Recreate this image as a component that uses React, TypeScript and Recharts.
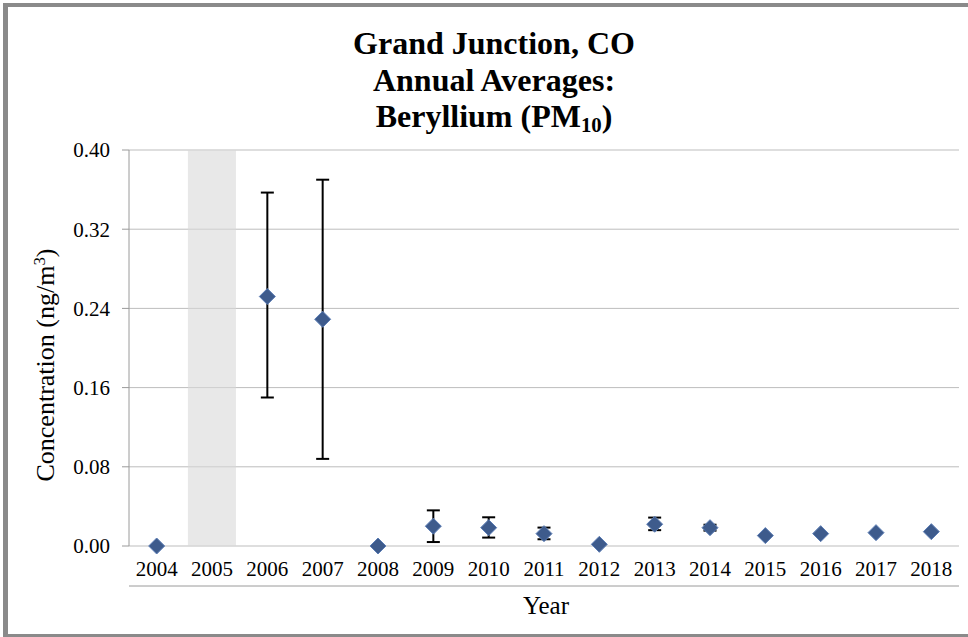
import {
  Bar,
  CartesianGrid,
  ComposedChart,
  ErrorBar,
  Line,
  XAxis,
  YAxis,
} from "recharts";

const years = [
  "2004", "2005", "2006", "2007", "2008", "2009", "2010", "2011",
  "2012", "2013", "2014", "2015", "2016", "2017", "2018",
];

// annual average concentration (ng/m3); 2005 has no data
const averages = [
  0.0, null, 0.252, 0.229, 0.0, 0.02, 0.0185, 0.0125, 0.0017, 0.022,
  0.0185, 0.0105, 0.0125, 0.0135, 0.0145,
];

// confidence interval bounds
const lowerBounds = [
  null, null, 0.15, 0.088, null, 0.004, 0.0085, 0.0068, null, 0.016,
  0.0155, null, null, null, null,
];
const upperBounds = [
  null, null, 0.357, 0.37, null, 0.036, 0.029, 0.0186, null, 0.0287,
  0.0215, null, null, null, null,
];

// year shaded grey (no sampling)
const shadedYears = ["2005"];

const yTicks = [0, 0.08, 0.16, 0.24, 0.32, 0.4];
const edgeTicks = years.map((_, i) => i).concat(years.length);

const data = years.map((year, i) => {
  const value = averages[i];
  const lo = lowerBounds[i];
  const hi = upperBounds[i];
  return {
    year,
    value,
    err: value != null && lo != null && hi != null ? [value - lo, hi - value] : null,
    band: shadedYears.includes(year) ? yTicks[yTicks.length - 1] : null,
  };
});

const SERIF = '"Liberation Serif", "Times New Roman", serif';
const AXIS_GREY = "#9a9a9a";

function Diamond(props: any) {
  const { cx, cy, value } = props;
  if (value == null || cx == null || cy == null) return <g />;
  return (
    <path
      d={`M${cx},${cy - 8} L${cx + 8},${cy} L${cx},${cy + 8} L${cx - 8},${cy} Z`}
      fill="#3e5b8c"
      stroke="#5b7db5"
      strokeWidth={1}
    />
  );
}

export default function App() {
  return (
    <div
      style={{
        position: "absolute",
        left: 0,
        top: 0,
        width: 968,
        height: 637,
        overflow: "hidden",
        background: "#fff",
        fontFamily: SERIF,
        color: "#000",
      }}
    >
      <div
        style={{
          position: "absolute",
          left: 3,
          top: 3,
          width: 1000,
          height: 627,
          borderLeft: "5px solid #8a8a8a",
          borderTop: "4px solid #8a8a8a",
          borderBottom: "3px solid #8a8a8a",
        }}
      />

      <div
        style={{
          position: "absolute",
          left: 294,
          top: 25,
          width: 400,
          textAlign: "center",
          fontSize: 32,
          fontWeight: "bold",
          lineHeight: "36.5px",
        }}
      >
        <div>Grand Junction, CO</div>
        <div>Annual Averages:</div>
        <div>
          Beryllium (PM
          <span style={{ fontSize: "0.65em", verticalAlign: "-0.25em", lineHeight: 0 }}>10</span>)
        </div>
      </div>

      <div style={{ position: "absolute", left: 0, top: 0 }}>
        <ComposedChart
          width={968}
          height={637}
          data={data}
          margin={{ top: 150, right: 9, bottom: 50, left: 0 }}
          barCategoryGap="6.5%"
        >
          <CartesianGrid vertical={false} stroke="#bdbdbd" />
          <XAxis
            xAxisId="edge"
            type="number"
            domain={[0, years.length]}
            ticks={edgeTicks}
            allowDataOverflow
            height={1}
            tick={false}
            tickSize={7}
            axisLine={{ stroke: AXIS_GREY }}
            tickLine={{ stroke: AXIS_GREY }}
          />
          <XAxis
            dataKey="year"
            height={40}
            axisLine={false}
            tickLine={false}
            tickSize={0}
            tickMargin={15}
            interval={0}
            tick={{ fill: "#000", fontSize: 21, fontFamily: SERIF }}
          />
          <YAxis
            domain={[0, 0.4]}
            ticks={yTicks}
            width={129}
            tickSize={7}
            tickMargin={12}
            tickFormatter={(v: number) => v.toFixed(2)}
            axisLine={{ stroke: AXIS_GREY }}
            tickLine={{ stroke: AXIS_GREY }}
            tick={{ fill: "#000", fontSize: 21, fontFamily: SERIF }}
          />
          <Bar
            dataKey="band"
            fill="#d9d9d9"
            fillOpacity={0.6}
            isAnimationActive={false}
          />
          <Line
            dataKey="value"
            stroke="none"
            dot={false}
            activeDot={false}
            isAnimationActive={false}
          >
            <ErrorBar
              dataKey="err"
              direction="y"
              width={6.5}
              stroke="#000"
              strokeWidth={2}
            />
          </Line>
          <Line
            dataKey="value"
            stroke="none"
            dot={<Diamond />}
            activeDot={false}
            isAnimationActive={false}
          />
        </ComposedChart>
      </div>

      <div
        style={{
          position: "absolute",
          left: 46,
          top: 365,
          transform: "translate(-50%, -50%) rotate(-90deg)",
          whiteSpace: "nowrap",
          fontSize: 26,
          lineHeight: "30px",
        }}
      >
        Concentration (ng/m
        <span style={{ fontSize: "0.65em", verticalAlign: "0.55em", lineHeight: 0 }}>3</span>)
      </div>

      <div
        style={{
          position: "absolute",
          left: 446,
          top: 592,
          width: 200,
          textAlign: "center",
          fontSize: 25,
          lineHeight: "28px",
        }}
      >
        Year
      </div>
    </div>
  );
}
